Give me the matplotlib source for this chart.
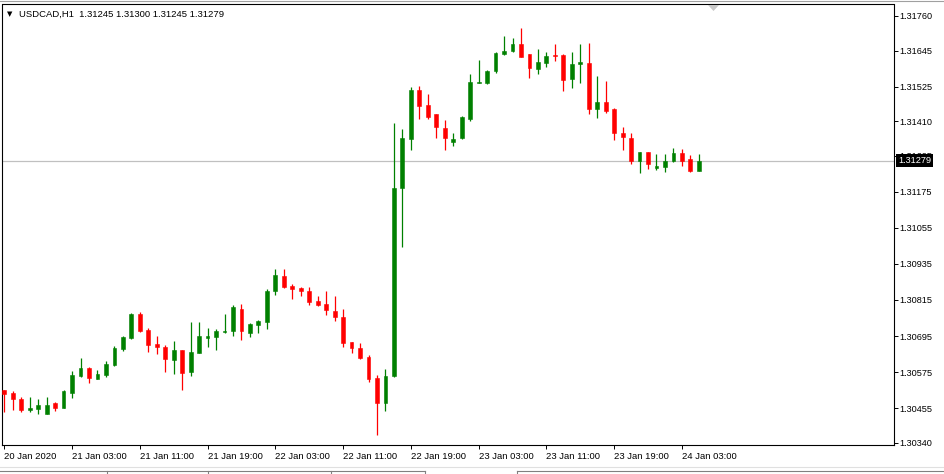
import matplotlib
matplotlib.use("Agg")
import matplotlib.pyplot as plt
import pandas as pd
from matplotlib.patches import Polygon
from matplotlib.lines import Line2D
from matplotlib.transforms import blended_transform_factory

# ---------------- data (USDCAD, H1) ----------------
symbol = "USDCAD,H1"
start_time = "2020-01-20 19:00"

opens = [1.30515, 1.30504, 1.30485, 1.30450, 1.30452, 1.30435, 1.30471, 1.30456, 1.30506, 1.30562,
         1.30589, 1.30553, 1.30565, 1.30598, 1.30652, 1.30687, 1.30768, 1.30715, 1.30667, 1.30659,
         1.30615, 1.30648, 1.30576, 1.30639, 1.30689, 1.30693, 1.30709, 1.30712, 1.30785, 1.30706,
         1.30732, 1.30742, 1.30845, 1.30896, 1.30861, 1.30854, 1.30846, 1.30812, 1.30801, 1.30779,
         1.30757, 1.30674, 1.30654, 1.30624, 1.30554, 1.30471, 1.30562, 1.31187, 1.31352, 1.31514,
         1.31464, 1.31433, 1.31386, 1.31340, 1.31353, 1.31416, 1.31537, 1.31538, 1.31577, 1.31634,
         1.31644, 1.31666, 1.31634, 1.31585, 1.31603, 1.31631, 1.31630, 1.31550, 1.31600, 1.31605,
         1.31450, 1.31474, 1.31450, 1.31372, 1.31353, 1.31278, 1.31307, 1.31255, 1.31256, 1.31278,
         1.31303, 1.31283, 1.31245]

highs = [1.30517, 1.30511, 1.30493, 1.30491, 1.30484, 1.30491, 1.30475, 1.30515, 1.30580, 1.30621,
         1.30593, 1.30582, 1.30613, 1.30663, 1.30695, 1.30772, 1.30775, 1.30723, 1.30695, 1.30665,
         1.30678, 1.30650, 1.30742, 1.30742, 1.30723, 1.30717, 1.30768, 1.30798, 1.30802, 1.30739,
         1.30748, 1.30850, 1.30917, 1.30917, 1.30868, 1.30857, 1.30857, 1.30828, 1.30846, 1.30828,
         1.30786, 1.30675, 1.30671, 1.30632, 1.30565, 1.30584, 1.31403, 1.31383, 1.31525, 1.31527,
         1.31500, 1.31434, 1.31414, 1.31370, 1.31427, 1.31567, 1.31614, 1.31580, 1.31640, 1.31693,
         1.31687, 1.31719, 1.31635, 1.31650, 1.31639, 1.31666, 1.31632, 1.31640, 1.31667, 1.31669,
         1.31560, 1.31545, 1.31453, 1.31392, 1.31370, 1.31309, 1.31309, 1.31301, 1.31301, 1.31320,
         1.31317, 1.31296, 1.31300]

lows = [1.30443, 1.30449, 1.30441, 1.30441, 1.30434, 1.30434, 1.30446, 1.30454, 1.30488, 1.30558,
        1.30540, 1.30551, 1.30560, 1.30595, 1.30645, 1.30685, 1.30709, 1.30643, 1.30635, 1.30575,
        1.30569, 1.30515, 1.30562, 1.30638, 1.30659, 1.30648, 1.30706, 1.30696, 1.30682, 1.30693,
        1.30706, 1.30719, 1.30830, 1.30854, 1.30817, 1.30828, 1.30798, 1.30795, 1.30765, 1.30746,
        1.30659, 1.30639, 1.30617, 1.30543, 1.30366, 1.30445, 1.30560, 1.30990, 1.31314, 1.31416,
        1.31416, 1.31353, 1.31314, 1.31327, 1.31351, 1.31412, 1.31536, 1.31534, 1.31571, 1.31630,
        1.31641, 1.31624, 1.31553, 1.31567, 1.31591, 1.31611, 1.31511, 1.31521, 1.31536, 1.31433,
        1.31420, 1.31438, 1.31347, 1.31314, 1.31266, 1.31239, 1.31250, 1.31247, 1.31242, 1.31275,
        1.31261, 1.31242, 1.31245]

closes = [1.30502, 1.30484, 1.30449, 1.30456, 1.30465, 1.30465, 1.30456, 1.30512, 1.30564, 1.30589,
          1.30555, 1.30568, 1.30602, 1.30656, 1.30692, 1.30768, 1.30713, 1.30665, 1.30657, 1.30617,
          1.30648, 1.30573, 1.30642, 1.30695, 1.30694, 1.30713, 1.30713, 1.30791, 1.30712, 1.30734,
          1.30745, 1.30846, 1.30899, 1.30859, 1.30850, 1.30845, 1.30809, 1.30798, 1.30782, 1.30757,
          1.30671, 1.30654, 1.30621, 1.30551, 1.30471, 1.30563, 1.31189, 1.31353, 1.31514, 1.31461,
          1.31425, 1.31392, 1.31353, 1.31351, 1.31425, 1.31541, 1.31541, 1.31578, 1.31638, 1.31644,
          1.31666, 1.31625, 1.31588, 1.31608, 1.31627, 1.31628, 1.31547, 1.31600, 1.31606, 1.31450,
          1.31474, 1.31445, 1.31370, 1.31358, 1.31278, 1.31307, 1.31267, 1.31261, 1.31277, 1.31303,
          1.31278, 1.31245, 1.31279]

y_ticks = [1.31760, 1.31645, 1.31525, 1.31410, 1.31295, 1.31175, 1.31055,
           1.30935, 1.30815, 1.30695, 1.30575, 1.30455, 1.30340]

# ---------------- figure ----------------
W, H = 945, 474
fig = plt.figure(figsize=(W / 100, H / 100), dpi=100)
fig.patch.set_facecolor("white")
FONT = ["Liberation Sans", "DejaVu Sans"]
plt.rcParams["font.family"] = FONT

L, R, T, B = 2.5, 894, 4.5, 445
ax = fig.add_axes([L / W, 1 - B / H, (R - L) / W, (B - T) / H])

bar_px = 8.47          # pixel spacing of one bar
x0_px = 4.3            # pixel centre of first bar
px_per_price = 30050.0
y_top_price = 1.31760 + (16 - T) / px_per_price
y_bot_price = 1.31760 - (B - 16) / px_per_price
ax.set_xlim((L - x0_px) / bar_px, (R - x0_px) / bar_px)
ax.set_ylim(y_bot_price, y_top_price)

bull, bear = "#008000", "#ff0000"
min_body = 1.0 / px_per_price
for i, (o, h, l, c) in enumerate(zip(opens, highs, lows, closes)):
    col = bull if c >= o else bear
    ax.vlines(i, l, h, color=col, lw=0.9, zorder=2)
    lo, hi = min(o, c), max(o, c)
    ht = max(hi - lo, min_body)
    ax.bar(i, ht, bottom=lo, width=0.45, color=col, edgecolor=col, lw=0.4, zorder=3)

last = closes[-1]
ax.axhline(last, color="#c0c0c0", lw=0.9, zorder=1)

# axes styling
for s in ax.spines.values():
    s.set_color("black")
    s.set_linewidth(0.8)
ax.yaxis.tick_right()
ax.set_yticks(y_ticks)
ax.set_yticklabels([f"{v:.5f}" for v in y_ticks])
ax.tick_params(axis="y", direction="out", length=3, width=0.7, pad=0.8,
               labelsize=6.6, colors="black")

times = pd.date_range(start_time, periods=len(opens), freq="h")
xt, xl = [], []
for i, t in enumerate(times):
    if t.hour in (3, 11, 19):
        xt.append(i)
        xl.append(t.strftime("%d Jan %Y") if i == 0 else t.strftime("%d Jan %H:%M"))
ax.set_xticks(xt)
ax.set_xticklabels(xl, ha="left")
ax.tick_params(axis="x", direction="out", length=3, width=0.7, pad=2,
               labelsize=6.8, colors="black")
for lab in ax.get_xticklabels():
    lab.set_horizontalalignment("left")

# header text
fig.text(7 / W, 1 - 14 / H, "\u25bc", fontsize=5, family="DejaVu Sans",
         va="center", ha="left")
fig.text(19 / W, 1 - 14 / H,
         f"{symbol}  {opens[-1]:.5f} {highs[-1]:.5f} {lows[-1]:.5f} {closes[-1]:.5f}",
         fontsize=6.8, va="center", ha="left")

# current price box
tr = blended_transform_factory(fig.transFigure, ax.transData)
fig.text(898 / W, last, f"{last:.5f}", transform=tr, color="white", fontsize=6.6,
         va="center", ha="left",
         bbox=dict(boxstyle="square,pad=0.2", fc="black", ec="none"))

# shift marker triangle
fig.patches.append(Polygon([[708 / W, 1 - 5 / H], [719 / W, 1 - 5 / H],
                            [713.5 / W, 1 - 11 / H]], closed=True,
                           transform=fig.transFigure, fc="#c8c8c8", ec="none"))

# window top border
fig.add_artist(Line2D([0, 1], [1 - 1 / H, 1 - 1 / H], color="#a0a0a0", lw=0.8,
                      transform=fig.transFigure))

# bottom tabs
fig.add_artist(Line2D([0, 1], [1 - 467 / H, 1 - 467 / H], color="#e0e0e0", lw=0.8,
                      transform=fig.transFigure))
for xa, xb in [(0, 425), (517, 945)]:
    fig.add_artist(Line2D([xa / W, xb / W], [1 - 470.5 / H] * 2, color="#808080",
                          lw=0.8, transform=fig.transFigure))
for xs in [107, 208, 331, 425, 517]:
    fig.add_artist(Line2D([xs / W, xs / W], [1 - 470.5 / H, 0], color="#808080",
                          lw=0.8, transform=fig.transFigure))

fig.savefig("out.png", dpi=100, facecolor="white")
